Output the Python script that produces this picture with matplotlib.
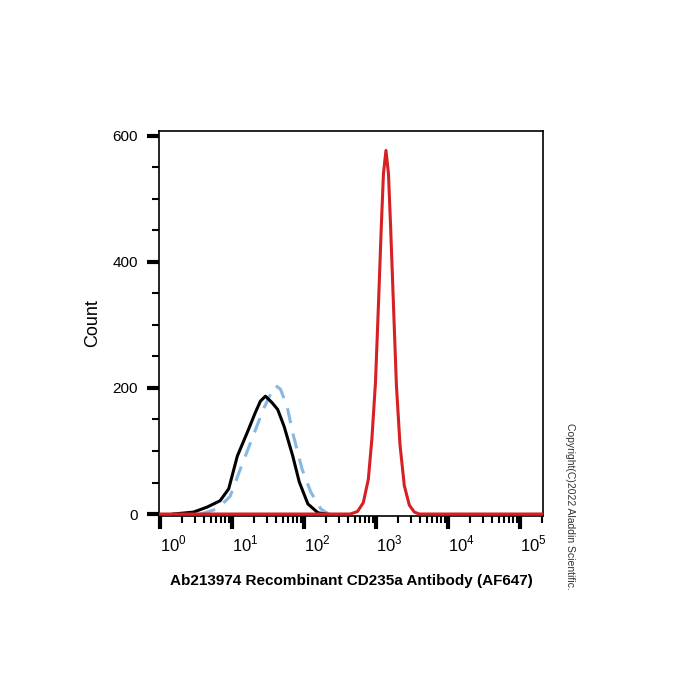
import numpy as np
import matplotlib
matplotlib.use("Agg")
from matplotlib import pyplot as plt
from matplotlib import transforms
from matplotlib.ticker import LogLocator, NullFormatter, MultipleLocator

plt.rcParams['font.family'] = ['Liberation Sans', 'DejaVu Sans']
plt.rcParams['mathtext.fontset'] = 'custom'
plt.rcParams['mathtext.rm'] = 'Liberation Sans'

# isotype / unstained (black), log10 fluorescence vs count
black_log = [0.18, 0.46, 0.65, 0.83, 0.95, 1.07, 1.21, 1.32, 1.39, 1.46, 1.55, 1.63, 1.72, 1.84, 1.93, 2.05, 2.19, 2.30]
black_cnt = [0, 3, 11, 21, 40, 92, 130, 161, 179, 187, 177, 166, 139, 92, 51, 16, 2, 0]

# blue dashed control
blue_log = [0.56, 0.79, 0.97, 1.11, 1.29, 1.43, 1.53, 1.60, 1.67, 1.76, 1.85, 1.97, 2.09, 2.23, 2.34]
blue_cnt = [0, 8, 28, 71, 124, 166, 190, 204, 198, 171, 124, 71, 35, 8, 0]

# stained sample (red)
red_log = [-0.02, 2.64, 2.74, 2.82, 2.89, 2.94, 2.99, 3.03, 3.07, 3.10, 3.135, 3.17, 3.20, 3.24, 3.28, 3.33, 3.39, 3.46, 3.53, 3.60, 5.32]
red_cnt = [0, 0, 4, 18, 55, 120, 210, 330, 455, 540, 577, 540, 455, 330, 205, 110, 45, 14, 3, 0, 0]

fig = plt.figure(figsize=(7, 7), dpi=100)
ax = fig.add_axes([0.227, 0.263, 0.549, 0.55])

ax.plot(10 ** np.array(black_log), black_cnt, color='black', lw=2.2, zorder=3)
ax.plot(10 ** np.array(blue_log), blue_cnt, color='#86b8e2', lw=2.2, ls=(0, (5, 3.5)), zorder=2)
ax.plot(10 ** np.array(red_log), red_cnt, color='#d62023', lw=2.2, zorder=4)

ax.set_xscale('log')
ax.set_xlim(10 ** -0.02, 10 ** 5.32)
ax.set_ylim(-3, 608)

ax.xaxis.set_minor_locator(LogLocator(base=10, subs=np.arange(2, 10), numticks=20))
ax.xaxis.set_minor_formatter(NullFormatter())
ax.set_xticks([1, 10, 100, 1000, 10000, 100000])
ax.set_xticklabels([r'$10^{%d}$' % i for i in range(6)])

ax.yaxis.set_major_locator(MultipleLocator(200))
ax.yaxis.set_minor_locator(MultipleLocator(50))

ax.tick_params(axis='both', which='major', length=9, width=3, direction='out', labelsize=11, color='black')
ax.tick_params(axis='both', which='minor', length=5, width=1.5, direction='out', color='black')
ax.tick_params(axis='x', which='major', pad=4, labelsize=12)
ax.tick_params(axis='y', which='major', pad=6)

offset = transforms.ScaledTranslation(0.13, 0, fig.dpi_scale_trans)
for lab in ax.get_xticklabels():
    lab.set_transform(lab.get_transform() + offset)

for s in ax.spines.values():
    s.set_linewidth(1.2)

ax.set_ylabel('Count', fontsize=13, labelpad=8)
ax.set_xlabel('Ab213974 Recombinant CD235a Antibody (AF647)', fontsize=11, fontweight='bold', labelpad=14)

fig.text(0.814, 0.276, 'Copyright(C)2022 Aladdin Scientific.', rotation=-90,
         fontsize=7.5, color='#333333', va='center', ha='center')

fig.savefig('out.png', dpi=100)
